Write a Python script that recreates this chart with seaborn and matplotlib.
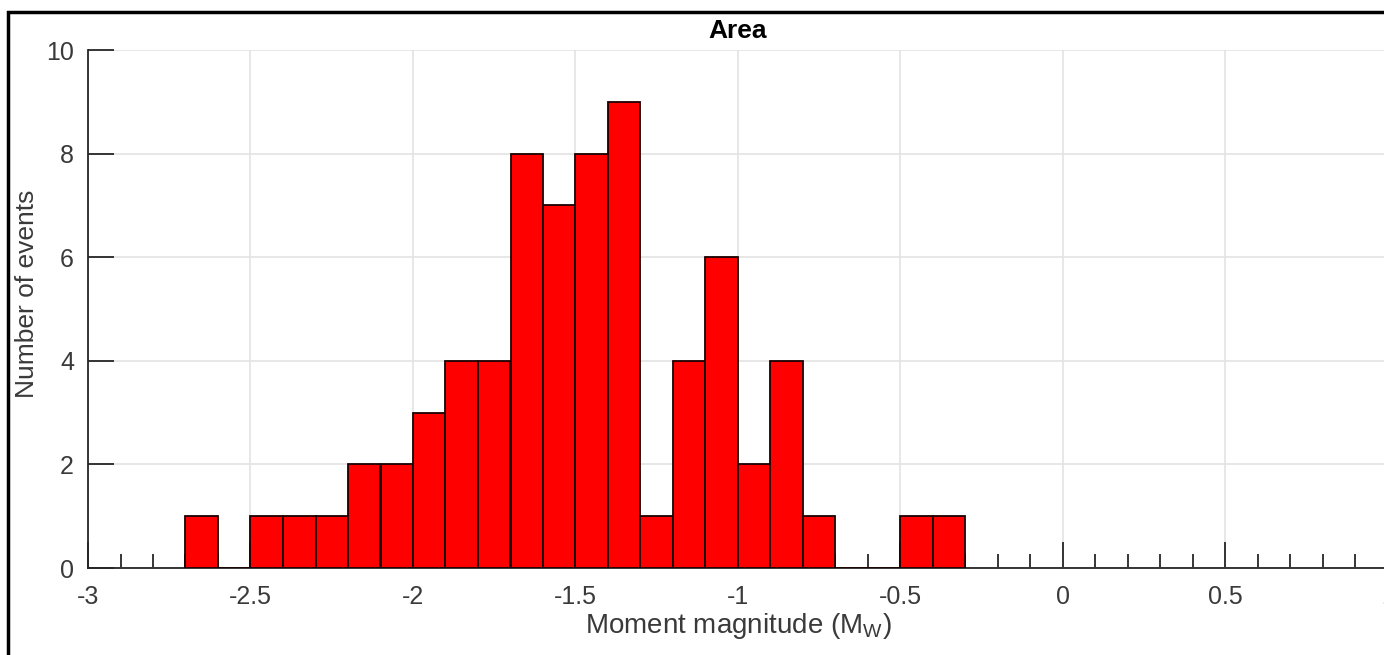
import seaborn as sns
import pandas as pd
import matplotlib.pyplot as plt
import numpy as np
from matplotlib.patches import Rectangle
from matplotlib.ticker import MultipleLocator

# bin edges (0.1 wide) and counts
binEdges = [-2.7, -2.6, -2.5, -2.4, -2.3, -2.2, -2.1, -2.0, -1.9, -1.8, -1.7, -1.6,
            -1.5, -1.4, -1.3, -1.2, -1.1, -1.0, -0.9, -0.8, -0.7, -0.6, -0.5, -0.4, -0.3]
counts = [1, 0, 1, 1, 1, 2, 2, 3, 4, 4, 8, 7, 8, 9, 1, 4, 6, 2, 4, 1, 0, 0, 1, 1]

centers = [(binEdges[i] + binEdges[i + 1]) / 2 for i in range(len(counts))]
df = pd.DataFrame({"mw": centers, "n": counts})

sns.set_theme(style="white")
plt.rcParams["font.family"] = ["Liberation Sans", "DejaVu Sans"]

fig = plt.figure(figsize=(13.84, 6.55), dpi=100)
ax = fig.add_axes([88 / 1384, 1 - 568 / 655, 1300 / 1384, 518 / 655])

sns.histplot(data=df, x="mw", weights="n", bins=binEdges, ax=ax,
             color="#ff0000", alpha=1, edgecolor="#1a0000", linewidth=1.3, zorder=3)

ax.set_xlim(-3, 1)
ax.set_ylim(0, 10)
ax.xaxis.set_major_locator(MultipleLocator(0.5))
ax.xaxis.set_minor_locator(MultipleLocator(0.1))
ax.yaxis.set_major_locator(MultipleLocator(2))
ax.set_xticks(ax.get_xticks())
ax.set_xticklabels([f"{v:g}" for v in ax.get_xticks()])
ax.set_xlim(-3, 1)
ax.grid(True, which="major", color="#e3e3e3", linewidth=1.2, zorder=0)
ax.set_axisbelow(True)

for s in ["top", "right"]:
    ax.spines[s].set_visible(False)
for s in ["left", "bottom"]:
    ax.spines[s].set_color("#262626")
    ax.spines[s].set_linewidth(1.3)

ax.tick_params(which="major", direction="in", length=19, width=1.3, color="#262626",
               labelsize=18, labelcolor="#3a3a3a", bottom=True, left=True)
ax.tick_params(which="minor", axis="x", direction="in", length=10, width=1.3,
               color="#262626", bottom=True)
ax.tick_params(axis="x", pad=12)
ax.tick_params(axis="y", pad=10)

ax.set_title("Area", fontsize=19, fontweight="bold", color="black", pad=9)
ax.set_xlabel("Moment magnitude (M$_\\mathregular{W}$)", fontsize=20, color="#3a3a3a", labelpad=2)
ax.set_ylabel("Number of events", fontsize=19, color="#3a3a3a")
ax.yaxis.set_label_coords(-0.038, 0.53)

# figure frame (cut off at right and bottom like the source image)
fig.patches.append(Rectangle((8 / 1384, -0.1), 1.2, 1.1 - 12.5 / 655,
                             transform=fig.transFigure, fill=False,
                             edgecolor="black", linewidth=2.5, clip_on=False))

fig.savefig("out.png", dpi=100)
